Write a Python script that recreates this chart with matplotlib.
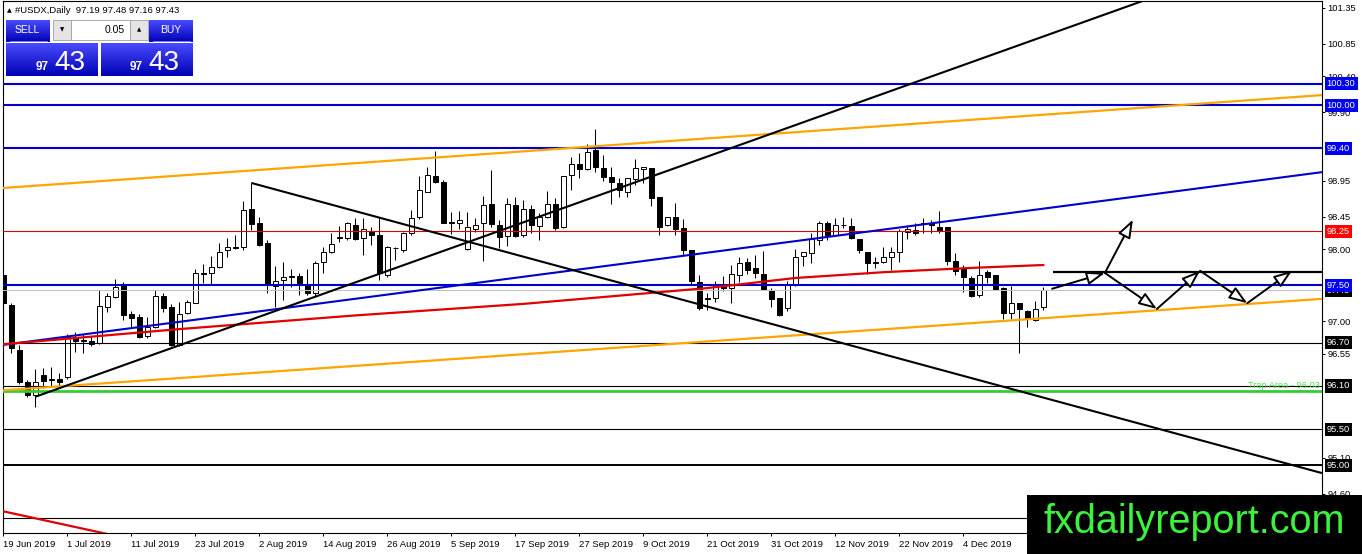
import matplotlib
matplotlib.use("Agg")
import matplotlib.pyplot as plt
import matplotlib.transforms as mtransforms
from matplotlib.patches import Rectangle
from matplotlib.colors import LinearSegmentedColormap
import numpy as np

plt.rcParams['font.family'] = ['Liberation Sans', 'DejaVu Sans']

W, H = 1362, 554

# ---- data ----
date_labels = ["19 Jun 2019", "1 Jul 2019", "11 Jul 2019", "23 Jul 2019", "2 Aug 2019",
               "14 Aug 2019", "26 Aug 2019", "5 Sep 2019", "17 Sep 2019", "27 Sep 2019",
               "9 Oct 2019", "21 Oct 2019", "31 Oct 2019", "12 Nov 2019", "22 Nov 2019",
               "4 Dec 2019"]

opens = [97.64, 97.22, 96.60, 96.15, 95.97, 96.25, 96.18, 96.20, 96.22, 96.78,
         96.74, 96.72, 96.70, 97.20, 97.34, 97.49, 97.10, 97.06, 96.79, 96.92,
         97.35, 97.20, 96.67, 97.11, 97.25, 97.67, 97.67, 97.75, 97.99, 98.03,
         98.03, 98.56, 98.36, 98.09, 97.49, 97.57, 97.62, 97.63, 97.50, 97.39,
         97.82, 97.96, 98.16, 98.16, 98.34, 98.16, 98.25, 98.20, 97.64, 98.01,
         97.99, 98.23, 98.45, 98.79, 99.02, 98.93, 98.38, 98.36, 98.00, 98.28,
         98.36, 98.63, 98.34, 98.18, 98.61, 98.20, 98.56, 98.32, 98.45, 98.63,
         98.31, 99.03, 99.18, 99.11, 99.38, 99.13, 99.00, 98.92, 98.79, 98.98,
         99.11, 99.13, 98.72, 98.34, 98.45, 98.29, 97.99, 97.54, 97.32, 97.32,
         97.49, 97.46, 97.64, 97.82, 97.74, 97.65, 97.42, 97.32, 97.18, 97.50,
         97.90, 97.95, 98.13, 98.36, 98.20, 98.34, 98.32, 98.14, 97.96, 97.82,
         97.82, 97.89, 97.96, 98.24, 98.27, 98.35, 98.36, 98.31, 98.31, 97.84,
         97.72, 97.60, 97.36, 97.68, 97.64, 97.46, 97.11, 97.25, 97.14, 97.02,
         97.19]
highs = [97.67, 97.25, 96.67, 96.18, 96.34, 96.35, 96.36, 96.28, 96.82, 96.85,
         96.82, 96.79, 97.43, 97.39, 97.58, 97.54, 97.14, 97.10, 97.06, 97.43,
         97.39, 97.24, 97.27, 97.29, 97.72, 97.79, 97.90, 98.09, 98.16, 98.20,
         98.67, 98.92, 98.45, 98.13, 97.77, 97.82, 97.72, 97.67, 97.72, 97.84,
         98.03, 98.23, 98.32, 98.38, 98.43, 98.43, 98.31, 98.43, 98.04, 98.03,
         98.24, 98.54, 99.02, 99.14, 99.36, 98.96, 98.51, 98.53, 98.51, 98.43,
         98.74, 99.10, 98.41, 98.71, 98.72, 98.68, 98.61, 98.50, 98.81, 98.71,
         99.02, 99.28, 99.34, 99.46, 99.67, 99.31, 99.14, 98.99, 98.99, 99.25,
         99.14, 99.13, 98.72, 98.45, 98.64, 98.42, 97.99, 97.64, 97.39, 97.56,
         97.63, 97.78, 97.89, 97.88, 97.92, 97.97, 97.46, 97.32, 97.56, 98.00,
         97.96, 98.23, 98.39, 98.39, 98.43, 98.45, 98.43, 98.14, 97.96, 97.89,
         98.03, 98.03, 98.28, 98.34, 98.36, 98.43, 98.41, 98.53, 98.31, 97.95,
         97.78, 97.63, 97.84, 97.71, 97.64, 97.47, 97.49, 97.25, 97.16, 97.28,
         97.48]
lows = [97.06, 96.56, 96.13, 95.95, 95.81, 96.07, 96.10, 96.07, 96.20, 96.57,
        96.56, 96.65, 96.68, 97.13, 97.32, 97.02, 96.90, 96.77, 96.77, 96.90,
        97.13, 96.65, 96.65, 97.10, 97.25, 97.53, 97.50, 97.74, 97.89, 98.00,
        97.99, 98.27, 98.04, 97.39, 97.20, 97.29, 97.47, 97.36, 97.36, 97.34,
        97.67, 97.95, 98.10, 98.13, 98.13, 97.92, 98.06, 97.57, 97.61, 97.85,
        97.96, 98.20, 98.42, 98.79, 98.92, 98.36, 98.21, 98.28, 97.99, 98.24,
        97.84, 98.31, 98.01, 98.04, 98.17, 98.17, 98.23, 98.13, 98.43, 98.27,
        98.29, 98.82, 98.99, 99.10, 99.07, 98.95, 98.63, 98.72, 98.72, 98.89,
        98.92, 98.60, 98.20, 98.32, 98.20, 97.92, 97.50, 97.16, 97.16, 97.27,
        97.42, 97.25, 97.54, 97.65, 97.60, 97.43, 97.20, 97.07, 97.14, 97.49,
        97.77, 97.81, 98.06, 98.13, 98.18, 98.29, 98.14, 97.95, 97.65, 97.74,
        97.81, 97.71, 97.82, 98.14, 98.20, 98.23, 98.23, 98.23, 97.78, 97.64,
        97.40, 97.34, 97.34, 97.53, 97.43, 97.03, 97.03, 96.56, 96.92, 97.00,
        97.16]
closes = [97.25, 96.63, 96.15, 95.97, 96.15, 96.17, 96.19, 96.15, 96.78, 96.72,
          96.73, 96.68, 97.21, 97.35, 97.47, 97.09, 97.04, 96.78, 96.92, 97.35,
          97.18, 96.67, 97.10, 97.27, 97.67, 97.66, 97.75, 97.96, 98.03, 98.01,
          98.54, 98.35, 98.06, 97.50, 97.56, 97.61, 97.63, 97.53, 97.39, 97.81,
          97.96, 98.07, 98.17, 98.36, 98.14, 98.28, 98.20, 97.67, 98.03, 98.02,
          98.23, 98.43, 98.82, 99.03, 98.93, 98.36, 98.37, 98.41, 98.31, 98.34,
          98.61, 98.35, 98.17, 98.63, 98.18, 98.56, 98.34, 98.45, 98.63, 98.29,
          99.02, 99.18, 99.11, 99.35, 99.14, 99.00, 98.93, 98.82, 98.99, 99.13,
          99.14, 98.71, 98.31, 98.45, 98.28, 97.99, 97.56, 97.18, 97.31, 97.50,
          97.46, 97.65, 97.81, 97.71, 97.67, 97.45, 97.31, 97.09, 97.50, 97.89,
          97.96, 98.14, 98.36, 98.20, 98.34, 98.33, 98.16, 97.99, 97.81, 97.81,
          97.89, 97.96, 98.25, 98.28, 98.23, 98.37, 98.34, 98.25, 97.84, 97.70,
          97.61, 97.35, 97.64, 97.61, 97.45, 97.11, 97.25, 97.17, 97.03, 97.17,
          97.43]

# red moving average, read at a few bars
ma_bars = [0, 22, 44, 65, 88, 99, 110, 121, 130]
ma_vals = [96.68, 96.89, 97.08, 97.24, 97.46, 97.60, 97.68, 97.74, 97.78]

blue_levels = [100.30, 100.00, 99.40, 97.50]
black_levels = [96.70, 96.10, 95.50]
thick_black_level = 95.00
unlabeled_level = 94.27
red_level = 98.25
bid = 97.43
trap_level = 96.03

# trendlines: (bar0, price0, bar1, price1)
black_down = (31, 98.92, 164.84, 94.89)
black_up = (4, 95.95, 145, 101.55)
blue_trend = (-0.04, 96.67, 164.84, 99.07)
orange_top = (-0.04, 98.85, 164.84, 100.14)
orange_bottom = (-0.04, 96.04, 164.84, 97.31)
red_trend = (-0.04, 94.36, 14, 94.02)
forecast_flat = (131.2, 97.68, 164.84, 97.68)

# projected path drawn with arrows
path_bars = [131.1, 137.7, 141.2, 144.2, 149.6, 155.5, 161.1]
path_vals = [97.45, 97.67, 98.41, 97.17, 97.70, 97.25, 97.70]
path_segments = [(0, 1), (1, 2), (1, 3), (3, 4), (4, 5), (5, 6)]

# scale labels (the ones hidden under price boxes are left out)
price_ticks = [101.35, 100.85, 100.40, 99.90, 98.95, 98.45, 98.00,
               97.00, 96.55, 95.10, 94.60]

BLUE = '#0000cd'
ORANGE = '#ffa500'

fig = plt.figure(figsize=(W / 100, H / 100), dpi=100)
ax = fig.add_axes([3 / W, 21 / H, 1319 / W, 532 / H])
ax.set_xlim(-0.04, 164.84)
ax.set_ylim(94.058, 101.447)

# candles
bars = np.arange(len(opens))
o = np.array(opens)
c = np.array(closes)
ax.vlines(bars, lows, highs, color='black', lw=0.75, zorder=2)
body_col = ['white' if cc >= oo else 'black' for oo, cc in zip(o, c)]
ax.bar(bars, np.abs(c - o), 0.62, np.minimum(o, c), color=body_col,
       edgecolor='black', linewidth=0.7, zorder=3)

# horizontal levels
for lv in blue_levels:
    ax.axhline(lv, color=BLUE, lw=1.5, zorder=4)
for lv in black_levels:
    ax.axhline(lv, color='black', lw=0.8, zorder=4)
ax.axhline(thick_black_level, color='black', lw=1.4, zorder=4)
ax.axhline(unlabeled_level, color='black', lw=0.8, zorder=4)
ax.axhline(red_level, color='#e00000', lw=0.8, zorder=4)
ax.axhline(bid, color='#c0c0c0', lw=0.7, zorder=3.5)
ax.axhline(trap_level, color='#33cc33', lw=2.0, zorder=4)

# trendlines
def seg(t, **kw):
    ax.plot([t[0], t[2]], [t[1], t[3]], solid_capstyle='butt', **kw)

seg(orange_top, color=ORANGE, lw=1.6, zorder=5)
seg(orange_bottom, color=ORANGE, lw=1.6, zorder=5)
seg(blue_trend, color=BLUE, lw=1.5, zorder=5)
seg(red_trend, color='#e00000', lw=1.6, zorder=5)
ax.plot(ma_bars, ma_vals, color='#e00000', lw=1.6, zorder=5)
seg(black_down, color='black', lw=1.5, zorder=6)
seg(black_up, color='black', lw=1.5, zorder=6)
seg(forecast_flat, color='black', lw=1.6, zorder=6)

for a, b in path_segments:
    ax.annotate('', xy=(path_bars[b], path_vals[b]), xytext=(path_bars[a], path_vals[a]),
                arrowprops=dict(arrowstyle='-|>,head_length=1.1,head_width=0.4',
                                fc='white', ec='black', lw=1.4, shrinkA=0, shrinkB=0),
                zorder=7)

# axes styling
for sp in ax.spines.values():
    sp.set_color('black')
    sp.set_linewidth(0.8)
ax.yaxis.set_ticks_position('right')
ax.set_yticks(price_ticks)
ax.set_yticklabels([f"{t:.2f}" for t in price_ticks])
ax.tick_params(axis='y', length=2.2, pad=1.5, labelsize=6.7, width=0.7)
ax.set_xticks(range(0, 8 * len(date_labels), 8))
ax.set_xticklabels(date_labels, ha='left')
ax.tick_params(axis='x', length=2.2, pad=2.5, labelsize=6.8, width=0.7)

# price labels on the right scale
blend = mtransforms.blended_transform_factory(ax.transAxes, ax.transData)
def price_box(val, fc):
    ax.text(1.0036, val, f"{val:.2f}", transform=blend, ha='left', va='center',
            fontsize=6.7, color='white', clip_on=False, zorder=20,
            bbox=dict(boxstyle='square,pad=0.22', fc=fc, ec='none'))

price_box(bid, 'black')
for lv in blue_levels:
    price_box(lv, '#0000f0')
price_box(red_level, '#ff0000')
for lv in black_levels + [thick_black_level]:
    price_box(lv, 'black')

ax.text(0.9985, trap_level + 0.02, "Trap Area - 96.03", transform=blend, ha='right',
        va='bottom', fontsize=6.7, color='#55dd55', zorder=8)

# ---- overlay (trade panel, header, watermark) in pixel space ----
ov = fig.add_axes([0, 0, 1, 1], zorder=10)
ov.patch.set_alpha(0)
blue_grad = LinearSegmentedColormap.from_list('bg', ['#4a4aff', '#0000b4'])
grad = np.linspace(0, 1, 60).reshape(-1, 1)
for x0, x1, y0, y1 in [(6, 50, 20, 42), (149, 193, 20, 42), (6, 98, 43, 76), (101, 193, 43, 76)]:
    ov.imshow(grad, cmap=blue_grad, extent=[x0, x1, y1, y0], aspect='auto', zorder=1)
for x0, x1 in [(53, 71), (130, 148)]:
    ov.add_patch(Rectangle((x0, 20), x1 - x0, 20, fc='#e4e4e4', ec='#a0a0a0', lw=0.6))
ov.add_patch(Rectangle((71, 20), 59, 20, fc='white', ec='#a0a0a0', lw=0.6))
ov.plot([10, 47], [41, 41], color='#9090ff', lw=0.6)
ov.plot([153, 190], [41, 41], color='#9090ff', lw=0.6)

ov.text(27, 30, "SELL", color='white', fontsize=7.5, ha='center', va='center')
ov.text(171, 30, "BUY", color='white', fontsize=7.5, ha='center', va='center')
ov.text(62, 30, "\u25bc", fontsize=4, ha='center', va='center', family=['DejaVu Sans'])
ov.text(139, 30, "\u25b2", fontsize=4, ha='center', va='center', family=['DejaVu Sans'])
ov.text(125, 30, "0.05", fontsize=7.5, ha='right', va='center')
for xr, xl in [(49, 54), (143, 148)]:
    ov.text(xr, 70, "97", color='white', fontsize=8.5, fontweight='bold', ha='right', va='baseline')
    ov.text(xl, 70, "43", color='white', fontsize=20, ha='left', va='baseline')

ov.text(7, 10.5, "\u25b2", fontsize=4.5, va='center', family=['DejaVu Sans'])
ov.text(15, 10.5, "#USDX,Daily  97.19 97.48 97.16 97.43", fontsize=6.8, va='center')

ov.add_patch(Rectangle((1027, 495), W - 1027, H - 495, fc='black', ec='none', zorder=5))
ov.text(1194, 533, "fxdailyreport.com", color='#3df23d', fontsize=28.5, ha='center',
        va='baseline', zorder=6)

ov.set_xlim(0, W)
ov.set_ylim(H, 0)
ov.axis('off')

fig.savefig("out.png", dpi=100)
